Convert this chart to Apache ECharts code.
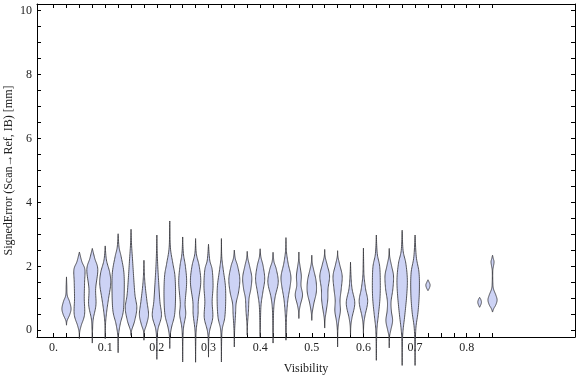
<!DOCTYPE html>
<html>
<head>
<meta charset="utf-8">
<script src="https://cdn.jsdelivr.net/npm/echarts@6/dist/echarts.min.js"></script>
<style>
html, body { margin: 0; padding: 0; background: #fff; }
#main { width: 576px; height: 377px; }
</style>
</head>
<body>
<div id="main"></div>
<script>
// visibility of each violin
var visibility = [0.025, 0.05, 0.075, 0.1, 0.125, 0.15, 0.175, 0.2, 0.225, 0.25,
    0.275, 0.3, 0.325, 0.35, 0.375, 0.4, 0.425, 0.45, 0.475, 0.5,
    0.525, 0.55, 0.575, 0.6, 0.625, 0.65, 0.675, 0.7, 0.725, 0.825, 0.85];

// density outline of each violin: [signed error, relative density]
var violinShapes = [
    [[0.16, 0], [0.3, 0.1], [0.5, 0.55], [0.68, 0.75], [0.9, 0.5], [1.1, 0.12], [1.4, 0.05], [1.67, 0]],
    [[-0.26, 0], [-0.05, 0.05], [0.15, 0.3], [0.5, 0.85], [1.0, 0.8], [1.5, 0.85], [1.9, 0.9], [2.15, 0.4], [2.45, 0]],
    [[-0.4, 0], [0.0, 0.04], [0.35, 0.15], [0.8, 0.6], [1.3, 0.55], [1.9, 0.9], [2.25, 0.4], [2.56, 0]],
    [[-0.26, 0], [0.2, 0.05], [0.6, 0.25], [1.0, 0.55], [1.45, 0.9], [1.8, 0.75], [2.2, 0.2], [2.64, 0]],
    [[-0.7, 0], [-0.2, 0.04], [0.2, 0.35], [0.6, 0.85], [1.2, 1.0], [1.8, 0.95], [2.3, 0.5], [2.6, 0.15], [3.02, 0]],
    [[-0.16, 0], [0.0, 0.1], [0.3, 0.6], [0.7, 0.95], [1.1, 0.65], [1.6, 0.45], [2.2, 0.25], [2.7, 0.08], [3.16, 0]],
    [[-0.31, 0], [-0.05, 0.05], [0.2, 0.45], [0.5, 0.75], [0.9, 0.5], [1.4, 0.2], [1.8, 0.06], [2.19, 0]],
    [[-0.91, 0], [-0.3, 0.04], [0.05, 0.2], [0.45, 0.75], [0.9, 0.5], [1.5, 0.3], [2.0, 0.15], [2.5, 0.05], [2.98, 0]],
    [[-0.57, 0], [-0.2, 0.05], [0.1, 0.3], [0.5, 0.8], [1.1, 0.95], [1.7, 0.85], [2.1, 0.5], [2.6, 0.1], [3.42, 0]],
    [[-0.99, 0], [-0.3, 0.04], [0.1, 0.15], [0.5, 0.5], [0.85, 0.4], [1.5, 0.65], [2.0, 0.45], [2.4, 0.12], [2.92, 0]],
    [[-1.0, 0], [-0.3, 0.04], [0.05, 0.12], [0.5, 0.4], [0.9, 0.45], [1.5, 0.85], [2.0, 0.6], [2.4, 0.12], [2.87, 0]],
    [[-0.84, 0], [-0.3, 0.04], [0.0, 0.2], [0.4, 0.7], [0.9, 0.6], [1.4, 0.75], [1.9, 0.6], [2.2, 0.2], [2.69, 0]],
    [[-0.99, 0], [-0.3, 0.04], [0.05, 0.15], [0.4, 0.55], [0.9, 0.7], [1.4, 0.65], [1.9, 0.3], [2.3, 0.06], [2.87, 0]],
    [[-0.52, 0], [0.0, 0.05], [0.5, 0.2], [0.85, 0.3], [1.2, 0.7], [1.6, 0.9], [2.0, 0.55], [2.25, 0.15], [2.51, 0]],
    [[-0.15, 0], [0.2, 0.05], [0.6, 0.2], [1.0, 0.3], [1.3, 0.6], [1.65, 0.75], [2.0, 0.4], [2.25, 0.1], [2.47, 0]],
    [[-0.2, 0], [0.3, 0.05], [0.8, 0.15], [1.2, 0.45], [1.6, 0.75], [2.0, 0.5], [2.3, 0.12], [2.55, 0]],
    [[-0.4, 0], [0.2, 0.04], [0.7, 0.12], [1.05, 0.35], [1.5, 0.85], [1.9, 0.55], [2.15, 0.15], [2.44, 0]],
    [[-0.31, 0], [0.2, 0.05], [0.6, 0.15], [1.0, 0.35], [1.4, 0.7], [1.7, 0.8], [2.1, 0.35], [2.5, 0.06], [2.9, 0]],
    [[0.37, 0], [0.6, 0.06], [0.8, 0.25], [1.1, 0.6], [1.4, 0.35], [1.7, 0.4], [2.0, 0.2], [2.2, 0.05], [2.45, 0]],
    [[0.31, 0], [0.55, 0.08], [0.85, 0.35], [1.2, 0.75], [1.55, 0.7], [1.9, 0.3], [2.1, 0.08], [2.35, 0]],
    [[0.07, 0], [0.35, 0.06], [0.6, 0.25], [0.95, 0.5], [1.3, 0.55], [1.7, 0.8], [2.05, 0.4], [2.3, 0.08], [2.53, 0]],
    [[-0.52, 0], [0.0, 0.04], [0.3, 0.2], [0.6, 0.45], [0.95, 0.4], [1.3, 0.6], [1.7, 0.75], [2.05, 0.35], [2.3, 0.06], [2.49, 0]],
    [[-0.15, 0], [0.15, 0.06], [0.4, 0.25], [0.85, 0.7], [1.3, 0.25], [1.7, 0.08], [2.13, 0]],
    [[-0.1, 0], [0.2, 0.06], [0.45, 0.25], [0.9, 0.7], [1.3, 0.35], [1.7, 0.1], [2.1, 0.04], [2.57, 0]],
    [[-0.94, 0], [-0.3, 0.04], [0.1, 0.12], [0.5, 0.35], [1.0, 0.6], [1.5, 0.65], [2.0, 0.55], [2.4, 0.15], [2.98, 0]],
    [[-0.55, 0], [-0.2, 0.05], [0.0, 0.25], [0.3, 0.55], [0.6, 0.35], [0.9, 0.3], [1.3, 0.6], [1.7, 0.7], [2.0, 0.4], [2.3, 0.08], [2.56, 0]],
    [[-1.1, 0], [-0.4, 0.04], [0.0, 0.15], [0.5, 0.45], [1.1, 0.75], [1.6, 0.85], [2.1, 0.6], [2.5, 0.15], [3.13, 0]],
    [[-1.1, 0], [-0.4, 0.04], [0.1, 0.15], [0.6, 0.5], [1.2, 0.7], [1.8, 0.65], [2.3, 0.2], [2.98, 0]],
    [[1.24, 0], [1.33, 0.25], [1.42, 0.35], [1.5, 0.2], [1.58, 0]],
    [[0.72, 0], [0.8, 0.2], [0.88, 0.3], [0.96, 0.2], [1.03, 0]],
    [[0.57, 0], [0.68, 0.2], [0.8, 0.55], [0.95, 0.75], [1.1, 0.55], [1.3, 0.15], [1.5, 0.05], [1.85, 0.04], [2.0, 0.15], [2.14, 0.25], [2.25, 0.12], [2.35, 0]]
];

// ticks
var xTickValues = [0, 0.1, 0.2, 0.3, 0.4, 0.5, 0.6, 0.7, 0.8];
var xTickLabels = ["0.", "0.1", "0.2", "0.3", "0.4", "0.5", "0.6", "0.7", "0.8"];
var xTickMarks = [0, 0.025, 0.05, 0.075, 0.1, 0.125, 0.15, 0.175, 0.2, 0.225, 0.25, 0.275,
    0.3, 0.325, 0.35, 0.375, 0.4, 0.425, 0.45, 0.475, 0.5, 0.525, 0.55, 0.575,
    0.6, 0.625, 0.65, 0.675, 0.7, 0.725, 0.75, 0.775, 0.8, 0.825, 0.85];
var yTickValues = [0, 2, 4, 6, 8, 10];
var yTickMarks = [0, 0.5, 1, 1.5, 2, 2.5, 3, 3.5, 4, 4.5, 5, 5.5, 6, 6.5, 7, 7.5, 8, 8.5, 9, 9.5, 10];

var X_MIN = -0.0321, X_MAX = 1.0097;
var Y_MIN = -0.21, Y_MAX = 10.21;
var HALF = 0.0118;   // half width of a full-density violin, in visibility units
var FONT = '"Liberation Serif", "DejaVu Serif", serif';

// smooth outline through the knots (catmull-rom)
function outline(knots) {
    var out = [], n = knots.length;
    for (var k = 0; k < n - 1; k++) {
        var p0 = knots[Math.max(k - 1, 0)], p1 = knots[k], p2 = knots[k + 1], p3 = knots[Math.min(k + 2, n - 1)];
        for (var s = 0; s < 10; s++) {
            var t = s / 10, t2 = t * t, t3 = t2 * t;
            var f = function (a, b, c, d) {
                return 0.5 * (2 * b + (-a + c) * t + (2 * a - 5 * b + 4 * c - d) * t2 + (-a + 3 * b - 3 * c + d) * t3);
            };
            out.push([f(p0[0], p1[0], p2[0], p3[0]), Math.max(0, f(p0[1], p1[1], p2[1], p3[1]))]);
        }
    }
    out.push(knots[n - 1]);
    return out;
}

var chart = echarts.init(document.getElementById('main'), null, { renderer: 'canvas' });

function axisBase(pos) {
    return {
        type: 'value',
        position: pos,
        axisLine: { show: true, onZero: false, lineStyle: { color: '#000', width: 1 } },
        splitLine: { show: false }
    };
}

var xBottom = axisBase('bottom');
xBottom.min = X_MIN; xBottom.max = X_MAX;
xBottom.axisTick = { show: true, inside: true, length: 4, customValues: xTickMarks, lineStyle: { color: '#000' } };
xBottom.axisLabel = {
    customValues: xTickValues, margin: 5, color: '#222', fontFamily: FONT, fontSize: 12,
    formatter: function (v) {
        for (var i = 0; i < xTickValues.length; i++) if (Math.abs(v - xTickValues[i]) < 1e-6) return xTickLabels[i];
        return '';
    }
};
xBottom.name = 'Visibility';
xBottom.nameLocation = 'middle';
xBottom.nameGap = 26;
xBottom.nameMoveOverlap = false;
xBottom.nameTextStyle = { color: '#222', fontFamily: FONT, fontSize: 12 };

var xTop = axisBase('top');
xTop.min = X_MIN; xTop.max = X_MAX;
xTop.axisTick = { show: true, inside: true, length: 4, customValues: xTickMarks, lineStyle: { color: '#000' } };
xTop.axisLabel = { show: false };

var yLeft = axisBase('left');
yLeft.min = Y_MIN; yLeft.max = Y_MAX;
yLeft.axisTick = { show: true, inside: true, length: 4, customValues: yTickMarks, lineStyle: { color: '#000' } };
yLeft.axisLabel = { customValues: yTickValues, margin: 5, color: '#222', fontFamily: FONT, fontSize: 12 };
yLeft.name = 'SignedError (Scan\u2192Ref, IB) [mm]';
yLeft.nameLocation = 'middle';
yLeft.nameGap = 22;
yLeft.nameMoveOverlap = false;
yLeft.nameTextStyle = { color: '#222', fontFamily: FONT, fontSize: 12 };

var yRight = axisBase('right');
yRight.min = Y_MIN; yRight.max = Y_MAX;
yRight.axisTick = { show: true, inside: true, length: 4, customValues: yTickMarks, lineStyle: { color: '#000' } };
yRight.axisLabel = { show: false };

chart.setOption({
    animation: false,
    backgroundColor: '#fff',
    grid: { left: 37, right: 1, top: 4, bottom: 40, containLabel: false, outerBoundsMode: 'none' },
    xAxis: [xBottom, xTop],
    yAxis: [yLeft, yRight],
    series: [{
        type: 'custom',
        xAxisIndex: 0,
        yAxisIndex: 0,
        data: visibility.map(function (v, i) { return [v, i]; }),
        encode: { x: 0 },
        renderItem: function (params, api) {
            var i = params.dataIndex, x = visibility[i];
            var pts = outline(violinShapes[i]);
            var right = pts.map(function (p) { return api.coord([x + p[1] * HALF, p[0]]); });
            var left = pts.slice().reverse().map(function (p) { return api.coord([x - p[1] * HALF, p[0]]); });
            return {
                type: 'polygon',
                shape: { points: right.concat(left) },
                style: { fill: '#cdd3f5', stroke: 'rgba(55,55,60,0.85)', lineWidth: 1 }
            };
        }
    }]
});
</script>
</body>
</html>
